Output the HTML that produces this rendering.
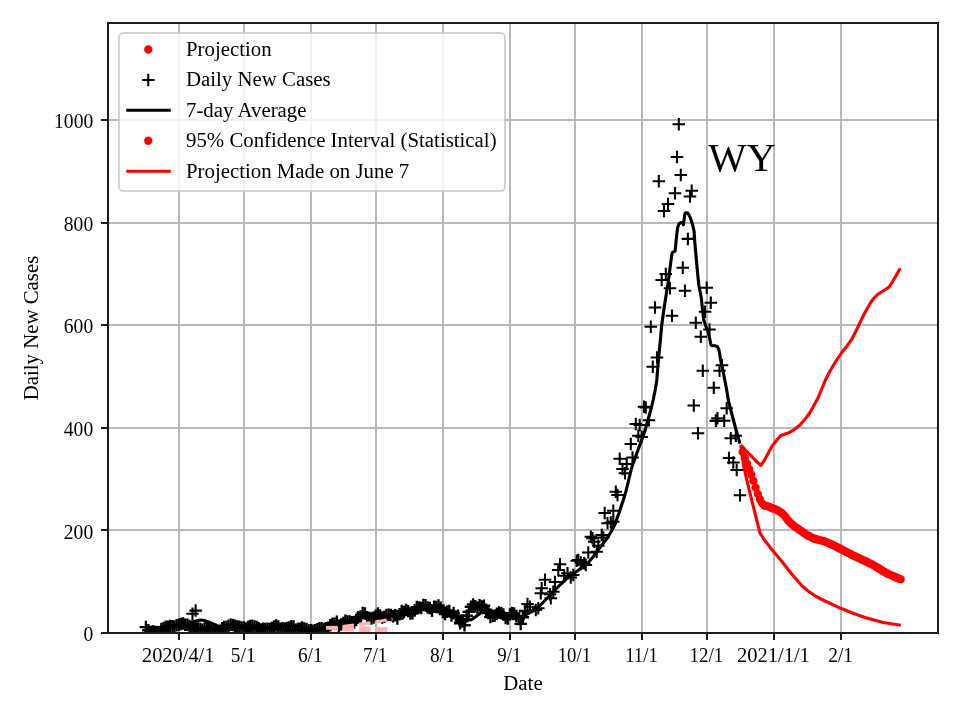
<!DOCTYPE html>
<html><head><meta charset="utf-8"><title>WY Daily New Cases</title>
<style>html,body{margin:0;padding:0;background:#fff}svg{display:block}</style></head>
<body>
<svg width="960" height="720" viewBox="0 0 960 720" font-family="'Liberation Serif', serif" font-size="20.83px">
<rect width="960" height="720" fill="#fff"/>
<defs><clipPath id="ax"><rect x="108.0" y="23.0" width="830.0" height="610.0"/></clipPath>
<path id="pl" d="M-6.25 0H6.25M0 -6.25V6.25" stroke="#000" fill="none"/></defs>
<path d="M179 23V633M244 23V633M311 23V633M376 23V633M443 23V633M510 23V633M575 23V633M642 23V633M707 23V633M774 23V633M841 23V633M108 530H938M108 428H938M108 325H938M108 223H938M108 120H938" stroke="#b9b9b9" stroke-width="2" fill="none" shape-rendering="crispEdges"/>
<g clip-path="url(#ax)">
<polyline points="740.8,445.0 745.0,449.5 750.0,454.5 755.0,460.0 760.8,465.3 764.0,461.0 771.7,446.7 776.0,441.0 780.8,435.5 784.0,434.5 787.5,433.3 793.0,430.5 800.0,425.0 806.0,418.0 810.0,412.5 813.6,406.0 818.0,398.0 825.4,380.0 830.0,371.0 836.0,361.0 841.4,353.0 847.0,346.0 851.8,339.2 856.0,331.0 860.8,320.8 866.0,310.5 871.0,302.0 874.0,298.0 877.3,294.8 883.0,291.0 889.1,287.0 893.0,281.0 900.2,268.2" stroke="#f00" stroke-width="3.125" fill="none" stroke-linejoin="round"/>
<polyline points="740.8,445.0 743.9,467.2 746.7,479.6 752.1,501.7 756.7,520.0 760.0,533.0 764.0,539.5 771.7,549.2 781.7,561.2 791.7,574.0 801.7,585.5 808.0,591.0 815.0,595.8 825.0,601.0 840.8,608.3 853.0,613.3 865.0,617.5 883.3,622.5 900.8,625.3" stroke="#f00" stroke-width="3.125" fill="none" stroke-linejoin="round"/>
<g fill="#f00"><circle cx="742.6" cy="452.0" r="4.15"/><circle cx="744.8" cy="457.6" r="4.15"/><circle cx="746.9" cy="463.5" r="4.15"/><circle cx="749.1" cy="469.1" r="4.15"/><circle cx="751.3" cy="474.7" r="4.15"/><circle cx="753.4" cy="480.9" r="4.15"/><circle cx="755.6" cy="487.6" r="4.15"/><circle cx="757.8" cy="494.0" r="4.15"/><circle cx="759.9" cy="499.4" r="4.15"/><circle cx="762.1" cy="503.4" r="4.15"/><circle cx="764.2" cy="505.4" r="4.15"/><circle cx="766.4" cy="505.9" r="4.15"/><circle cx="768.6" cy="506.6" r="4.15"/><circle cx="770.7" cy="507.4" r="4.15"/><circle cx="772.9" cy="508.3" r="4.15"/><circle cx="775.1" cy="509.2" r="4.15"/><circle cx="777.2" cy="510.1" r="4.15"/><circle cx="779.4" cy="511.4" r="4.15"/><circle cx="781.6" cy="512.8" r="4.15"/><circle cx="783.7" cy="514.9" r="4.15"/><circle cx="785.9" cy="517.5" r="4.15"/><circle cx="788.1" cy="520.5" r="4.15"/><circle cx="790.2" cy="522.6" r="4.15"/><circle cx="792.4" cy="524.5" r="4.15"/><circle cx="794.5" cy="526.4" r="4.15"/><circle cx="796.7" cy="527.8" r="4.15"/><circle cx="798.9" cy="529.3" r="4.15"/><circle cx="801.0" cy="530.8" r="4.15"/><circle cx="803.2" cy="532.4" r="4.15"/><circle cx="805.4" cy="534.0" r="4.15"/><circle cx="807.5" cy="535.3" r="4.15"/><circle cx="809.7" cy="536.4" r="4.15"/><circle cx="811.9" cy="537.6" r="4.15"/><circle cx="814.0" cy="538.5" r="4.15"/><circle cx="816.2" cy="539.2" r="4.15"/><circle cx="818.4" cy="539.8" r="4.15"/><circle cx="820.5" cy="540.4" r="4.15"/><circle cx="822.7" cy="540.9" r="4.15"/><circle cx="824.9" cy="541.5" r="4.15"/><circle cx="827.0" cy="542.4" r="4.15"/><circle cx="829.2" cy="543.3" r="4.15"/><circle cx="831.3" cy="544.2" r="4.15"/><circle cx="833.5" cy="545.3" r="4.15"/><circle cx="835.7" cy="546.4" r="4.15"/><circle cx="837.8" cy="547.5" r="4.15"/><circle cx="840.0" cy="548.6" r="4.15"/><circle cx="842.2" cy="549.7" r="4.15"/><circle cx="844.3" cy="550.8" r="4.15"/><circle cx="846.5" cy="552.0" r="4.15"/><circle cx="848.7" cy="553.1" r="4.15"/><circle cx="850.8" cy="554.2" r="4.15"/><circle cx="853.0" cy="555.3" r="4.15"/><circle cx="855.2" cy="556.4" r="4.15"/><circle cx="857.3" cy="557.4" r="4.15"/><circle cx="859.5" cy="558.4" r="4.15"/><circle cx="861.6" cy="559.4" r="4.15"/><circle cx="863.8" cy="560.4" r="4.15"/><circle cx="866.0" cy="561.5" r="4.15"/><circle cx="868.1" cy="562.5" r="4.15"/><circle cx="870.3" cy="563.6" r="4.15"/><circle cx="872.5" cy="564.6" r="4.15"/><circle cx="874.6" cy="565.8" r="4.15"/><circle cx="876.8" cy="567.2" r="4.15"/><circle cx="879.0" cy="568.5" r="4.15"/><circle cx="881.1" cy="569.8" r="4.15"/><circle cx="883.3" cy="571.2" r="4.15"/><circle cx="885.5" cy="572.5" r="4.15"/><circle cx="887.6" cy="573.7" r="4.15"/><circle cx="889.8" cy="574.6" r="4.15"/><circle cx="892.0" cy="575.6" r="4.15"/><circle cx="894.1" cy="576.5" r="4.15"/><circle cx="896.3" cy="577.5" r="4.15"/><circle cx="898.4" cy="578.4" r="4.15"/><circle cx="900.6" cy="579.2" r="4.15"/></g>
<g stroke-width="2.35"><use href="#pl" x="145.9" y="627.1"/><use href="#pl" x="148.4" y="630.3"/><use href="#pl" x="150.6" y="632.1"/><use href="#pl" x="152.8" y="631.4"/><use href="#pl" x="154.9" y="631.8"/><use href="#pl" x="157.1" y="632.2"/><use href="#pl" x="159.3" y="632.2"/><use href="#pl" x="161.4" y="629.1"/><use href="#pl" x="163.6" y="628.0"/><use href="#pl" x="165.8" y="626.8"/><use href="#pl" x="167.9" y="626.7"/><use href="#pl" x="170.1" y="625.9"/><use href="#pl" x="172.3" y="626.3"/><use href="#pl" x="174.4" y="626.5"/><use href="#pl" x="176.6" y="625.2"/><use href="#pl" x="178.8" y="624.7"/><use href="#pl" x="180.9" y="624.1"/><use href="#pl" x="183.1" y="623.4"/><use href="#pl" x="185.2" y="624.7"/><use href="#pl" x="187.4" y="624.8"/><use href="#pl" x="189.6" y="626.1"/><use href="#pl" x="191.7" y="626.7"/><use href="#pl" x="193.9" y="628.3"/><use href="#pl" x="196.1" y="628.5"/><use href="#pl" x="198.2" y="628.4"/><use href="#pl" x="200.4" y="629.0"/><use href="#pl" x="202.6" y="629.8"/><use href="#pl" x="204.7" y="628.6"/><use href="#pl" x="206.9" y="628.5"/><use href="#pl" x="209.1" y="628.7"/><use href="#pl" x="211.2" y="631.1"/><use href="#pl" x="213.4" y="632.2"/><use href="#pl" x="215.5" y="629.8"/><use href="#pl" x="217.7" y="632.2"/><use href="#pl" x="219.9" y="630.8"/><use href="#pl" x="222.0" y="628.2"/><use href="#pl" x="224.2" y="626.9"/><use href="#pl" x="226.4" y="626.9"/><use href="#pl" x="228.5" y="625.8"/><use href="#pl" x="230.7" y="624.8"/><use href="#pl" x="232.9" y="624.9"/><use href="#pl" x="235.0" y="625.7"/><use href="#pl" x="237.2" y="626.4"/><use href="#pl" x="239.4" y="626.7"/><use href="#pl" x="241.5" y="627.5"/><use href="#pl" x="243.7" y="627.5"/><use href="#pl" x="245.8" y="628.4"/><use href="#pl" x="248.0" y="626.9"/><use href="#pl" x="250.2" y="625.9"/><use href="#pl" x="252.3" y="625.7"/><use href="#pl" x="254.5" y="626.5"/><use href="#pl" x="256.7" y="626.9"/><use href="#pl" x="258.8" y="628.2"/><use href="#pl" x="261.0" y="629.4"/><use href="#pl" x="263.2" y="628.7"/><use href="#pl" x="265.3" y="629.1"/><use href="#pl" x="267.5" y="628.8"/><use href="#pl" x="269.7" y="628.9"/><use href="#pl" x="271.8" y="627.9"/><use href="#pl" x="274.0" y="626.5"/><use href="#pl" x="276.2" y="625.5"/><use href="#pl" x="278.3" y="626.4"/><use href="#pl" x="280.5" y="628.7"/><use href="#pl" x="282.6" y="628.3"/><use href="#pl" x="284.8" y="628.6"/><use href="#pl" x="287.0" y="627.9"/><use href="#pl" x="289.1" y="627.4"/><use href="#pl" x="291.3" y="626.3"/><use href="#pl" x="293.5" y="626.5"/><use href="#pl" x="295.6" y="629.8"/><use href="#pl" x="297.8" y="629.0"/><use href="#pl" x="300.0" y="628.8"/><use href="#pl" x="302.1" y="627.6"/><use href="#pl" x="304.3" y="628.5"/><use href="#pl" x="306.5" y="629.1"/><use href="#pl" x="308.6" y="630.4"/><use href="#pl" x="310.8" y="630.2"/><use href="#pl" x="312.9" y="630.8"/><use href="#pl" x="315.1" y="630.3"/><use href="#pl" x="317.3" y="629.3"/><use href="#pl" x="319.4" y="628.3"/><use href="#pl" x="321.6" y="628.3"/><use href="#pl" x="323.8" y="628.9"/><use href="#pl" x="325.9" y="628.2"/><use href="#pl" x="328.1" y="627.8"/><use href="#pl" x="330.3" y="625.3"/><use href="#pl" x="332.4" y="623.7"/><use href="#pl" x="334.6" y="623.7"/><use href="#pl" x="336.8" y="621.7"/><use href="#pl" x="338.9" y="625.7"/><use href="#pl" x="341.1" y="624.4"/><use href="#pl" x="343.3" y="623.0"/><use href="#pl" x="345.4" y="620.7"/><use href="#pl" x="347.6" y="621.5"/><use href="#pl" x="349.7" y="621.6"/><use href="#pl" x="351.9" y="622.3"/><use href="#pl" x="354.1" y="622.6"/><use href="#pl" x="356.2" y="620.0"/><use href="#pl" x="358.4" y="617.3"/><use href="#pl" x="360.6" y="616.6"/><use href="#pl" x="362.7" y="613.1"/><use href="#pl" x="364.9" y="613.6"/><use href="#pl" x="367.1" y="617.2"/><use href="#pl" x="369.2" y="617.9"/><use href="#pl" x="371.4" y="618.5"/><use href="#pl" x="373.6" y="617.6"/><use href="#pl" x="375.7" y="615.8"/><use href="#pl" x="377.9" y="613.4"/><use href="#pl" x="380.0" y="615.4"/><use href="#pl" x="382.2" y="617.6"/><use href="#pl" x="384.4" y="616.8"/><use href="#pl" x="386.5" y="615.1"/><use href="#pl" x="388.7" y="614.8"/><use href="#pl" x="390.9" y="615.1"/><use href="#pl" x="393.0" y="616.2"/><use href="#pl" x="395.2" y="615.2"/><use href="#pl" x="397.4" y="618.5"/><use href="#pl" x="399.5" y="614.2"/><use href="#pl" x="401.7" y="611.0"/><use href="#pl" x="403.9" y="612.0"/><use href="#pl" x="406.0" y="610.0"/><use href="#pl" x="408.2" y="610.9"/><use href="#pl" x="410.4" y="613.6"/><use href="#pl" x="412.5" y="613.3"/><use href="#pl" x="414.7" y="610.5"/><use href="#pl" x="416.8" y="607.1"/><use href="#pl" x="419.0" y="607.4"/><use href="#pl" x="421.2" y="608.1"/><use href="#pl" x="423.3" y="605.0"/><use href="#pl" x="425.5" y="605.3"/><use href="#pl" x="427.7" y="607.4"/><use href="#pl" x="429.8" y="608.1"/><use href="#pl" x="432.0" y="610.8"/><use href="#pl" x="434.2" y="606.8"/><use href="#pl" x="436.3" y="607.1"/><use href="#pl" x="438.5" y="605.5"/><use href="#pl" x="440.7" y="607.7"/><use href="#pl" x="442.8" y="612.0"/><use href="#pl" x="445.0" y="614.1"/><use href="#pl" x="447.1" y="611.8"/><use href="#pl" x="449.3" y="610.9"/><use href="#pl" x="451.5" y="615.5"/><use href="#pl" x="453.6" y="612.9"/><use href="#pl" x="455.8" y="616.8"/><use href="#pl" x="458.0" y="615.7"/><use href="#pl" x="460.1" y="623.3"/><use href="#pl" x="462.3" y="621.4"/><use href="#pl" x="464.5" y="625.3"/><use href="#pl" x="466.6" y="615.8"/><use href="#pl" x="468.8" y="611.9"/><use href="#pl" x="471.0" y="606.7"/><use href="#pl" x="473.1" y="604.4"/><use href="#pl" x="475.3" y="606.3"/><use href="#pl" x="477.5" y="607.5"/><use href="#pl" x="479.6" y="605.3"/><use href="#pl" x="481.8" y="606.5"/><use href="#pl" x="483.9" y="605.8"/><use href="#pl" x="486.1" y="609.7"/><use href="#pl" x="488.3" y="613.1"/><use href="#pl" x="490.4" y="617.1"/><use href="#pl" x="492.6" y="616.1"/><use href="#pl" x="494.8" y="615.5"/><use href="#pl" x="496.9" y="613.7"/><use href="#pl" x="499.1" y="612.4"/><use href="#pl" x="501.3" y="613.3"/><use href="#pl" x="503.4" y="614.4"/><use href="#pl" x="505.6" y="617.9"/><use href="#pl" x="507.8" y="618.6"/><use href="#pl" x="509.9" y="614.6"/><use href="#pl" x="512.1" y="613.1"/><use href="#pl" x="514.2" y="613.5"/><use href="#pl" x="516.4" y="616.1"/><use href="#pl" x="518.6" y="619.1"/><use href="#pl" x="520.7" y="623.9"/><use href="#pl" x="522.9" y="617.2"/><use href="#pl" x="525.1" y="610.9"/></g>
<g stroke-width="2.08"><use href="#pl" x="195.6" y="610.6"/><use href="#pl" x="192.5" y="613.8"/><use href="#pl" x="527.5" y="604.0"/><use href="#pl" x="530.0" y="606.7"/><use href="#pl" x="535.8" y="610.0"/><use href="#pl" x="538.3" y="608.3"/><use href="#pl" x="540.8" y="593.3"/><use href="#pl" x="541.7" y="588.3"/><use href="#pl" x="545.0" y="579.7"/><use href="#pl" x="550.0" y="594.2"/><use href="#pl" x="550.8" y="598.3"/><use href="#pl" x="555.0" y="582.0"/><use href="#pl" x="553.3" y="591.7"/><use href="#pl" x="560.0" y="564.2"/><use href="#pl" x="558.3" y="570.0"/><use href="#pl" x="564.2" y="575.8"/><use href="#pl" x="567.5" y="573.3"/><use href="#pl" x="570.8" y="577.5"/><use href="#pl" x="573.3" y="575.0"/><use href="#pl" x="576.7" y="560.8"/><use href="#pl" x="578.3" y="560.0"/><use href="#pl" x="580.8" y="562.5"/><use href="#pl" x="584.2" y="563.3"/><use href="#pl" x="585.8" y="565.0"/><use href="#pl" x="588.3" y="552.5"/><use href="#pl" x="590.8" y="536.7"/><use href="#pl" x="592.5" y="538.3"/><use href="#pl" x="594.2" y="541.7"/><use href="#pl" x="596.7" y="551.7"/><use href="#pl" x="598.3" y="545.8"/><use href="#pl" x="601.7" y="535.0"/><use href="#pl" x="603.3" y="537.5"/><use href="#pl" x="607.5" y="523.3"/><use href="#pl" x="610.8" y="522.5"/><use href="#pl" x="613.3" y="521.7"/><use href="#pl" x="604.7" y="513.0"/><use href="#pl" x="613.3" y="510.8"/><use href="#pl" x="615.8" y="491.7"/><use href="#pl" x="617.5" y="495.0"/><use href="#pl" x="619.7" y="458.7"/><use href="#pl" x="622.5" y="469.0"/><use href="#pl" x="625.0" y="473.3"/><use href="#pl" x="626.7" y="464.0"/><use href="#pl" x="632.5" y="457.5"/><use href="#pl" x="630.8" y="444.0"/><use href="#pl" x="638.3" y="435.8"/><use href="#pl" x="641.7" y="437.0"/><use href="#pl" x="635.8" y="424.0"/><use href="#pl" x="639.7" y="425.0"/><use href="#pl" x="649.0" y="420.3"/><use href="#pl" x="644.0" y="406.7"/><use href="#pl" x="645.8" y="407.5"/><use href="#pl" x="693.8" y="405.5"/><use href="#pl" x="698.0" y="433.3"/><use href="#pl" x="715.8" y="420.8"/><use href="#pl" x="655.0" y="307.5"/><use href="#pl" x="650.8" y="326.7"/><use href="#pl" x="672.0" y="315.8"/><use href="#pl" x="657.0" y="357.5"/><use href="#pl" x="652.8" y="366.7"/><use href="#pl" x="710.8" y="302.8"/><use href="#pl" x="705.0" y="311.7"/><use href="#pl" x="695.8" y="322.8"/><use href="#pl" x="709.5" y="329.5"/><use href="#pl" x="700.8" y="336.7"/><use href="#pl" x="702.8" y="370.8"/><use href="#pl" x="722.0" y="365.3"/><use href="#pl" x="719.5" y="370.8"/><use href="#pl" x="713.8" y="387.8"/><use href="#pl" x="675.0" y="193.3"/><use href="#pl" x="690.0" y="196.5"/><use href="#pl" x="691.7" y="190.7"/><use href="#pl" x="668.0" y="204.0"/><use href="#pl" x="664.0" y="211.0"/><use href="#pl" x="687.9" y="238.9"/><use href="#pl" x="682.8" y="267.8"/><use href="#pl" x="665.8" y="274.0"/><use href="#pl" x="661.7" y="280.0"/><use href="#pl" x="670.0" y="288.3"/><use href="#pl" x="685.0" y="290.8"/><use href="#pl" x="706.7" y="287.8"/><use href="#pl" x="678.8" y="124.2"/><use href="#pl" x="677.0" y="157.0"/><use href="#pl" x="680.8" y="175.0"/><use href="#pl" x="658.8" y="181.2"/><use href="#pl" x="726.7" y="408.3"/><use href="#pl" x="716.2" y="420.8"/><use href="#pl" x="724.2" y="420.8"/><use href="#pl" x="717.5" y="418.3"/><use href="#pl" x="730.8" y="438.3"/><use href="#pl" x="735.8" y="435.8"/><use href="#pl" x="729.0" y="458.0"/><use href="#pl" x="733.3" y="462.5"/><use href="#pl" x="736.7" y="470.0"/><use href="#pl" x="740.0" y="495.3"/></g>
<polyline points="146.0,628.5 152.0,630.0 160.0,630.0 168.0,628.0 176.0,626.5 184.0,625.0 190.0,623.7 195.0,621.2 200.0,620.0 204.0,620.5 208.5,622.0 214.0,624.5 220.0,627.0 226.0,627.5 232.0,626.5 238.0,625.5 245.0,626.5 255.0,627.5 265.0,628.0 275.0,627.0 285.0,627.5 295.0,627.5 305.0,628.0 312.0,629.0 320.0,628.5 328.0,626.5 336.0,624.0 345.0,621.5 355.0,619.0 363.0,616.5 372.0,616.0 380.0,615.8 388.0,615.8 396.0,616.5 404.0,614.0 412.0,611.5 420.0,608.0 424.0,606.5 430.0,608.0 436.0,607.0 443.0,609.5 450.0,612.5 458.0,616.5 462.0,618.5 466.0,620.0 471.7,619.6 476.0,616.5 480.0,613.5 484.0,610.5 487.0,609.8 492.0,611.5 498.0,614.0 503.0,616.5 508.0,617.5 514.0,616.5 520.0,617.5 527.0,614.0 536.7,609.0 545.0,600.5 553.3,591.7 562.0,583.0 570.0,575.7 578.0,570.5 586.7,564.4 593.0,557.0 598.9,548.9 606.7,538.9 611.0,532.0 614.4,525.6 618.9,513.3 623.3,500.0 626.3,490.0 631.7,467.5 638.0,450.0 644.2,433.3 648.0,420.0 651.0,409.0 653.2,400.0 655.0,391.0 656.8,380.0 658.6,358.0 660.2,342.0 661.7,325.5 663.8,310.0 666.9,290.0 667.8,285.0 670.0,268.1 671.8,254.6 672.5,252.4 675.0,251.2 675.5,247.0 676.2,240.0 676.8,234.0 677.8,227.0 679.1,223.8 680.6,222.6 682.5,223.1 683.4,224.6 684.1,219.4 685.0,213.4 685.9,212.8 687.5,212.8 689.1,215.0 690.9,219.4 692.5,224.4 694.1,231.3 694.6,240.0 695.5,250.0 697.6,273.3 698.8,285.0 701.4,298.3 702.6,311.0 703.8,320.0 706.0,326.5 708.3,332.5 709.8,339.0 710.7,343.6 711.3,345.5 715.6,345.8 717.6,346.8 718.8,349.5 719.6,353.5 720.6,360.0 722.0,365.5 726.7,390.0 728.3,400.0 730.8,410.0 735.0,426.0 740.0,443.7" stroke="#000" stroke-width="3.125" fill="none" stroke-linejoin="round"/>
<g stroke="#ffb3b3" fill="none" stroke-width="3.125" stroke-dasharray="11.56 5">
<polyline points="326,627.6 338,627.2 348,625.8 365,623.6 381,621 392.5,618.8"/>
<polyline points="326,627.6 338,628 348,628 365,628 381,628.8 392.5,629"/>
<polyline points="326,627.6 338,629 348,630 365,630.5 392.5,630.4"/>
</g>
</g>
<rect x="108" y="23" width="830" height="610" fill="none" stroke="#1c1c1c" stroke-width="2" shape-rendering="crispEdges"/>
<path d="M179 633V640M244 633V640M311 633V640M376 633V640M443 633V640M510 633V640M575 633V640M642 633V640M707 633V640M774 633V640M841 633V640M108 633H101M108 530H101M108 428H101M108 325H101M108 223H101M108 120H101" stroke="#1c1c1c" stroke-width="2" fill="none" shape-rendering="crispEdges"/>
<text transform="translate(178.2,662) scale(0.980,1)" text-anchor="middle">2020/4/1</text>
<text transform="translate(243.2,662) scale(0.930,1)" text-anchor="middle">5/1</text>
<text transform="translate(310.3,662) scale(0.930,1)" text-anchor="middle">6/1</text>
<text transform="translate(375.2,662) scale(0.910,1)" text-anchor="middle">7/1</text>
<text transform="translate(442.3,662) scale(0.930,1)" text-anchor="middle">8/1</text>
<text transform="translate(509.4,662) scale(0.910,1)" text-anchor="middle">9/1</text>
<text transform="translate(574.4,662) scale(0.900,1)" text-anchor="middle">10/1</text>
<text transform="translate(641.5,662) scale(0.900,1)" text-anchor="middle">11/1</text>
<text transform="translate(706.4,662) scale(0.910,1)" text-anchor="middle">12/1</text>
<text transform="translate(773.4,662) scale(0.985,1)" text-anchor="middle">2021/1/1</text>
<text transform="translate(840.6,662) scale(0.930,1)" text-anchor="middle">2/1</text>
<text transform="translate(93.2,641.0) scale(0.94,1)" text-anchor="end">0</text>
<text transform="translate(93.2,538.5) scale(0.94,1)" text-anchor="end">200</text>
<text transform="translate(93.2,435.9) scale(0.94,1)" text-anchor="end">400</text>
<text transform="translate(93.2,333.4) scale(0.94,1)" text-anchor="end">600</text>
<text transform="translate(93.2,230.8) scale(0.94,1)" text-anchor="end">800</text>
<text transform="translate(93.2,128.3) scale(0.94,1)" text-anchor="end">1000</text>
<text x="523" y="689.5" text-anchor="middle">Date</text>
<text transform="translate(38.3,328) rotate(-90)" text-anchor="middle">Daily New Cases</text>
<text x="708.3" y="170.7" font-size="40.6px">WY</text>
<rect x="119" y="33" width="386" height="158" rx="4.2" fill="#fff" fill-opacity="0.8" stroke="#c8c8c8" stroke-opacity="0.8" stroke-width="2"/>
<circle cx="148.25" cy="49.5" r="4.15" fill="#f00"/>
<use href="#pl" x="148.25" y="80" stroke-width="2.08"/>
<path d="M126.25 110.3H170.75" stroke="#000" stroke-width="3.125"/>
<circle cx="148.25" cy="140.75" r="4.15" fill="#f00"/>
<path d="M126.25 171.3H170.75" stroke="#f00" stroke-width="3.125"/>
<text x="186" y="55.5">Projection</text>
<text x="186" y="86.2">Daily New Cases</text>
<text x="186" y="116.5">7-day Average</text>
<text x="186" y="147.4">95% Confidence Interval (Statistical)</text>
<text x="186" y="177.5">Projection Made on June 7</text>
</svg>
</body></html>
